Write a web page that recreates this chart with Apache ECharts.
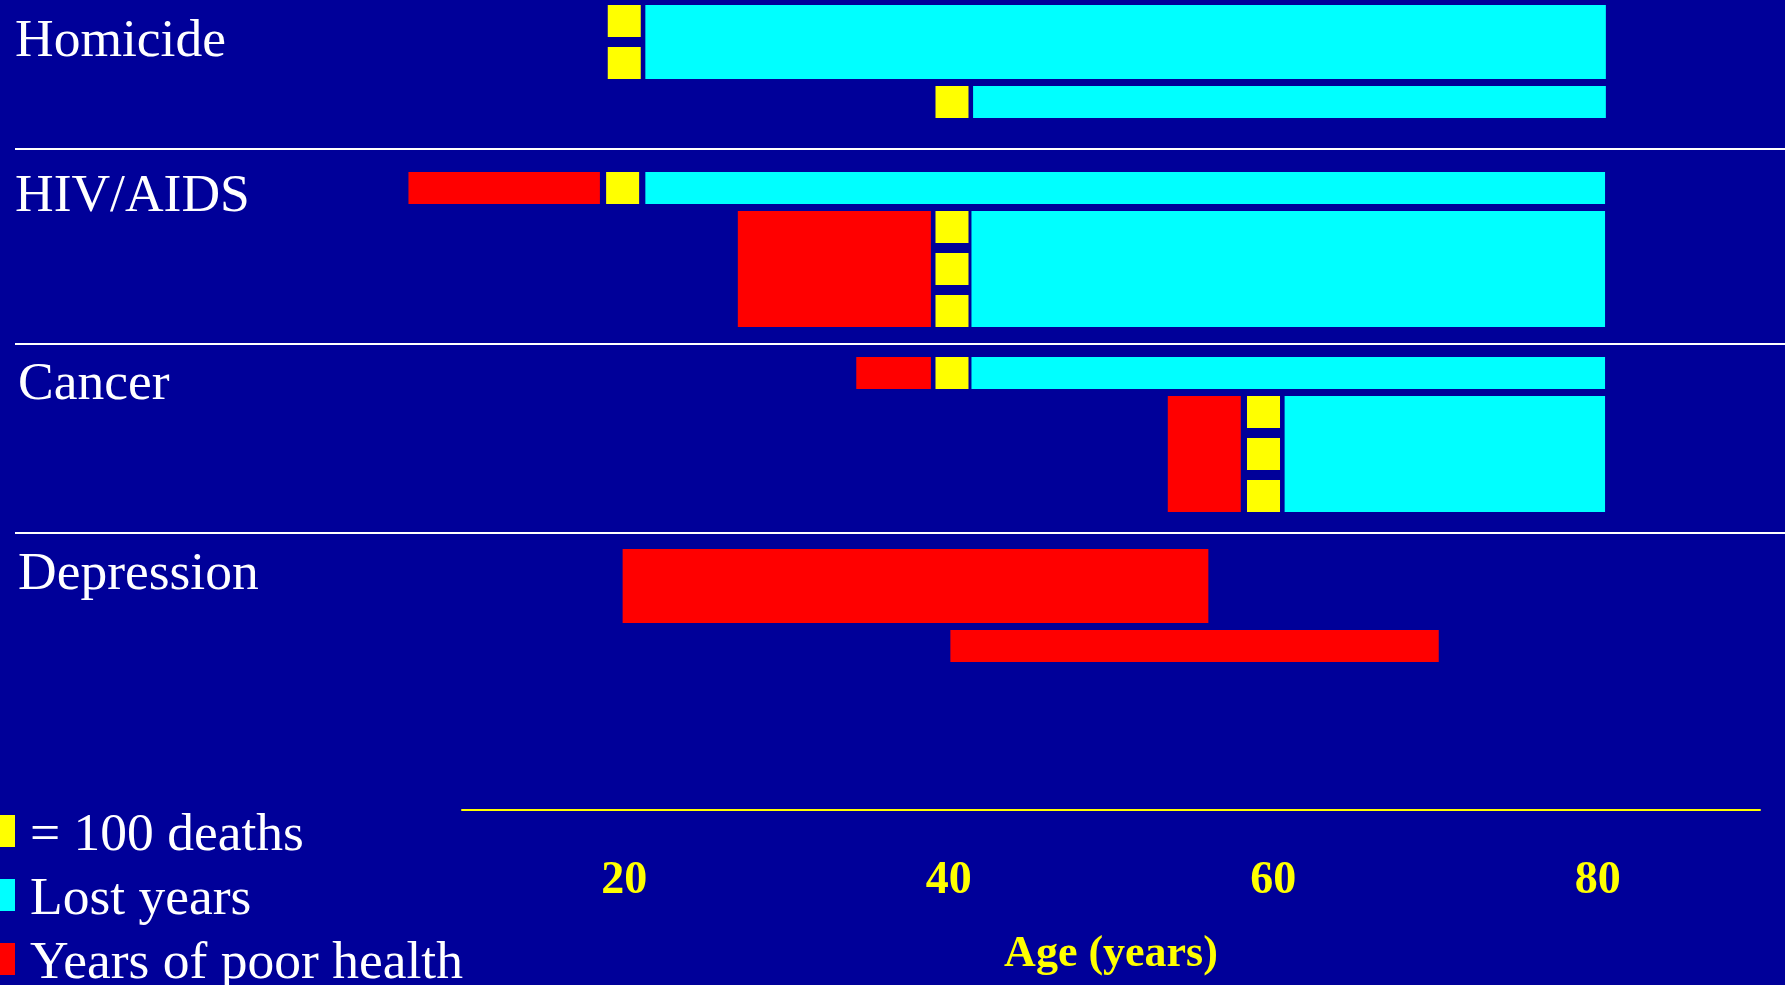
<!DOCTYPE html>
<html>
<head>
<meta charset="utf-8">
<title>Deaths, lost years and years of poor health by cause</title>
<script src="https://cdn.jsdelivr.net/npm/echarts@6/dist/echarts.min.js"></script>
<style>
  html, body { margin: 0; padding: 0; background: #000099; }
  #chart { width: 1785px; height: 985px; }
</style>
</head>
<body>
<div id="chart"></div>
<script>
// Causes shown, one block each
const CAUSES = ['Homicide', 'HIV/AIDS', 'Cancer', 'Depression'];

// Each cause has two case rows; which cause a row belongs to
const ROW_CAUSE = [0, 0, 1, 1, 2, 2, 3, 3];
// People affected in each row, in hundreds (sets the row height)
const ROW_CASES = [2, 1, 1, 3, 1, 3, 2, 1];
// Deaths in each row, in hundreds, and the age at death
const DEATHS = [2, 1, 1, 3, 1, 3, 0, 0];
const DEATH_AGE = [20, 40.2, 19.9, 40.2, 40.2, 59.4, null, null];
// Years of poor health: [from age, to age]
const POOR_HEALTH = [null, null, [6.7, 18.5], [27.0, 38.9], [34.3, 38.9], [53.5, 58.0], [19.9, 56.0], [40.1, 70.2]];
// Years of life lost: [from age, to age]
const LOST_YEARS = [[21.3, 80.5], [41.5, 80.5], [21.3, 80.45], [41.4, 80.45], [41.4, 80.45], [60.7, 80.45], null, null];

// Age axis
const AGE_MIN = 10;
const AGE_MAX = 90;
const AGE_TICKS = [20, 40, 60, 80];

const SERIES_NAMES = ['= 100 deaths', 'Lost years', 'Years of poor health'];

// ---- layout (pixels) ----
const BG = '#000099';
const YELLOW = '#ffff00';
const CYAN = '#00ffff';
const RED = '#ff0000';
const SERIF = '"Liberation Serif", "Times New Roman", serif';

const PLOT_H = 810;                 // height of the plotting band above the age axis
const SECTION_TOP = [5, 172, 357, 549];
const SECTION_LINES = [149, 344, 533];
const LABEL_X = [15, 15, 18, 18];
const LABEL_TOP = [14.5, 170, 358, 547.5];
const UNIT_H = 32;
const UNIT_PITCH = 42;
const ROW_GAP = 7;
const SQUARE_W = 33;

function rowHeight(i) {
  return UNIT_H + (ROW_CASES[i] - 1) * UNIT_PITCH;
}
function rowTop(i) {
  let y = SECTION_TOP[ROW_CAUSE[i]];
  for (let j = 0; j < i; j++) {
    if (ROW_CAUSE[j] === ROW_CAUSE[i]) y += rowHeight(j) + ROW_GAP;
  }
  return y;
}

// Span rows: [from, to, row]
function spanData(spans) {
  const out = [];
  spans.forEach(function (s, i) { if (s) out.push([s[0], s[1], i]); });
  return out;
}
const deathData = [];
DEATHS.forEach(function (n, i) { if (n > 0) deathData.push([DEATH_AGE[i], n, i]); });

function renderSpan(params, api) {
  const i = api.value(2);
  const top = rowTop(i);
  const p0 = api.coord([api.value(0), top]);
  const p1 = api.coord([api.value(1), top + rowHeight(i)]);
  return {
    type: 'rect',
    shape: { x: p0[0], y: p0[1], width: p1[0] - p0[0], height: p1[1] - p0[1] },
    style: { fill: api.visual('color') }
  };
}

function renderDeaths(params, api) {
  const age = api.value(0);
  const n = api.value(1);
  const i = api.value(2);
  const top = rowTop(i);
  const children = [];
  for (let k = 0; k < n; k++) {
    const p = api.coord([age, top + k * UNIT_PITCH]);
    children.push({
      type: 'rect',
      shape: { x: p[0] - SQUARE_W / 2, y: p[1], width: SQUARE_W, height: UNIT_H },
      style: { fill: api.visual('color') }
    });
  }
  return { type: 'group', children: children };
}

const graphics = [];
SECTION_LINES.forEach(function (y) {
  graphics.push({
    type: 'line',
    shape: { x1: 15, y1: y, x2: 1785, y2: y },
    style: { stroke: '#ffffff', lineWidth: 2 },
    silent: true
  });
});
CAUSES.forEach(function (name, c) {
  graphics.push({
    type: 'text',
    x: LABEL_X[c],
    y: LABEL_TOP[c],
    style: {
      text: name,
      fill: '#ffffff',
      font: '53.5px ' + SERIF,
      align: 'left',
      verticalAlign: 'top'
    },
    silent: true
  });
});

const chart = echarts.init(document.getElementById('chart'), null, { renderer: 'canvas' });
chart.setOption({
  backgroundColor: BG,
  animation: false,
  textStyle: { fontFamily: SERIF },
  grid: { left: 462, right: 25, top: 0, height: PLOT_H, containLabel: false },
  xAxis: {
    type: 'value',
    position: 'bottom',
    min: AGE_MIN,
    max: AGE_MAX,
    name: 'Age (years)',
    nameLocation: 'middle',
    nameGap: 123,
    nameTextStyle: { color: YELLOW, fontSize: 44, fontWeight: 'bold', fontFamily: SERIF },
    axisLine: { show: true, onZero: false, lineStyle: { color: YELLOW, width: 2 } },
    axisTick: { show: false },
    splitLine: { show: false },
    axisLabel: {
      customValues: AGE_TICKS,
      color: YELLOW,
      fontSize: 46,
      fontWeight: 'bold',
      fontFamily: SERIF,
      margin: 48
    }
  },
  yAxis: {
    type: 'value',
    min: 0,
    max: PLOT_H,
    inverse: true,
    show: false
  },
  legend: {
    orient: 'vertical',
    left: 0,
    top: 809,
    width: 460,
    height: 220,
    padding: 0,
    itemGap: 10,
    itemWidth: 15,
    itemHeight: 32,
    icon: 'rect',
    selectedMode: false,
    data: SERIES_NAMES,
    formatter: function (name) { return '{t|' + name + '}'; },
    textStyle: {
      color: '#ffffff',
      fontSize: 53.5,
      fontFamily: SERIF,
      rich: {
        t: { color: '#ffffff', fontSize: 53.5, fontFamily: SERIF, padding: [10, 0, 0, 10] }
      }
    }
  },
  graphic: graphics,
  series: [
    {
      type: 'custom',
      name: SERIES_NAMES[2],
      itemStyle: { color: RED },
      renderItem: renderSpan,
      encode: { x: [0, 1] },
      data: spanData(POOR_HEALTH)
    },
    {
      type: 'custom',
      name: SERIES_NAMES[0],
      itemStyle: { color: YELLOW },
      renderItem: renderDeaths,
      encode: { x: 0 },
      data: deathData
    },
    {
      type: 'custom',
      name: SERIES_NAMES[1],
      itemStyle: { color: CYAN },
      renderItem: renderSpan,
      encode: { x: [0, 1] },
      data: spanData(LOST_YEARS)
    }
  ]
});
</script>
</body>
</html>
